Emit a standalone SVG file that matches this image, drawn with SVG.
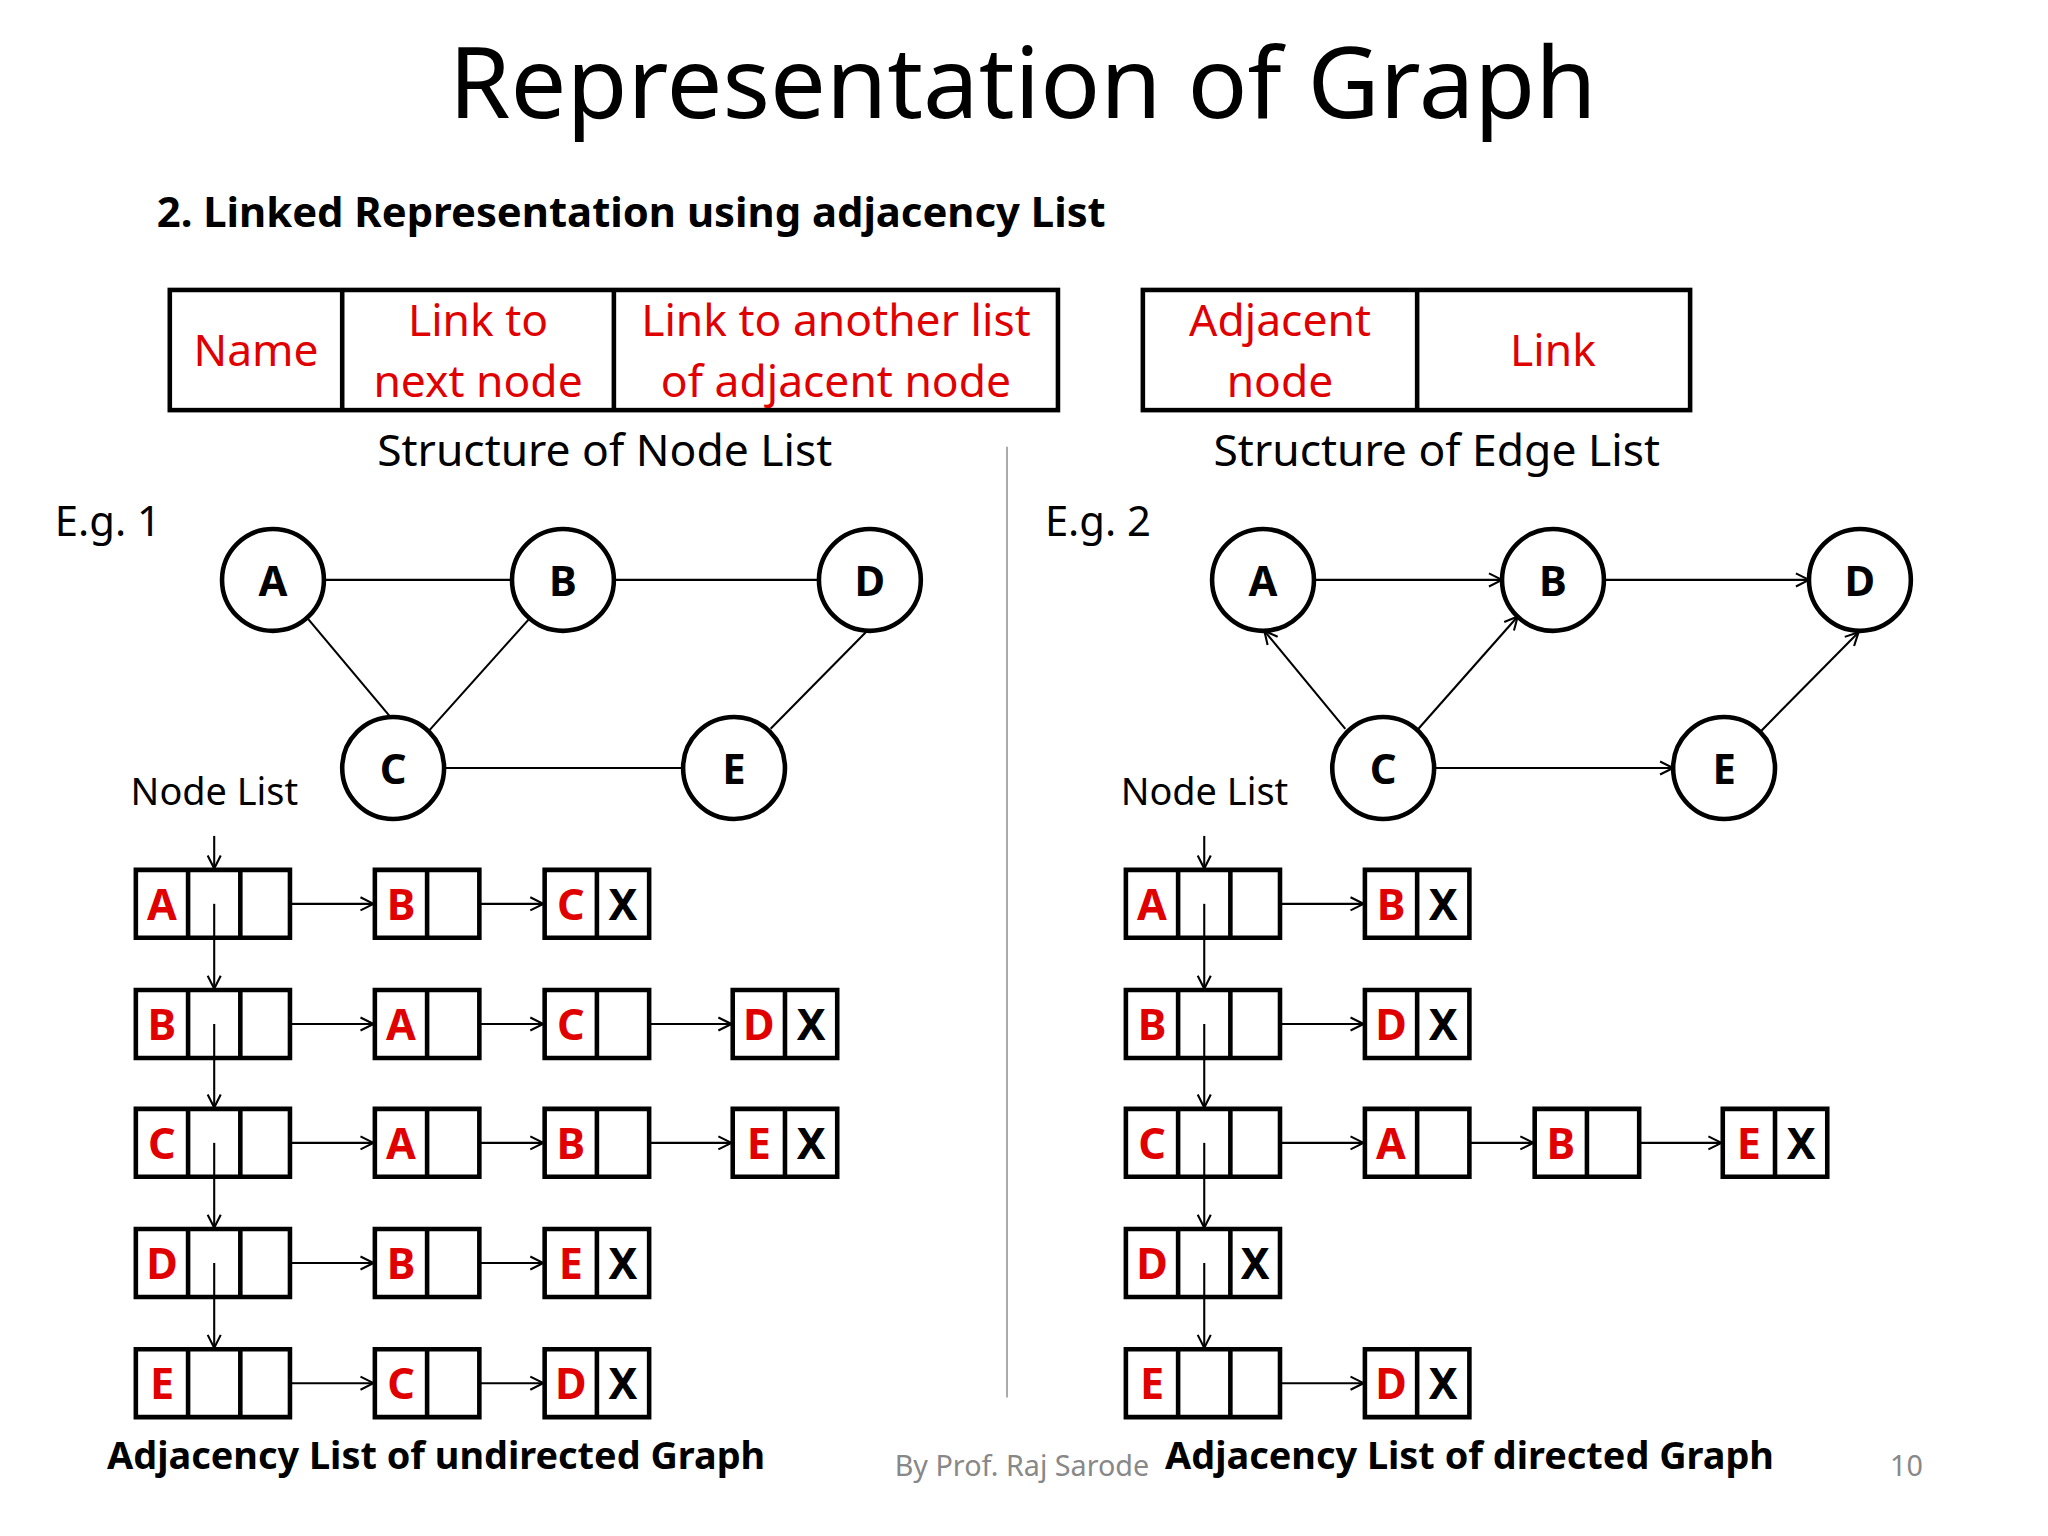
<svg xmlns="http://www.w3.org/2000/svg" width="2048" height="1536" viewBox="0 0 2048 1536">
<style>
text{font-family:"Noto Sans","Open Sans",sans-serif}
.t{font-size:34px;text-anchor:middle}
.r{fill:#e00000}
.box{fill:none;stroke:#000;stroke-width:3.5}
.c{fill:#fff;stroke:#000;stroke-width:3.5}
.e{stroke:#000;stroke-width:1.6;fill:none}
.a{stroke:#000;stroke-width:1.6;fill:none;marker-end:url(#ah)}
.L{font-size:33px;font-weight:bold;text-anchor:middle}
.n{font-size:32px;font-weight:bold;text-anchor:middle}
</style>
<defs>
<marker id="ah" viewBox="0 0 12 12" refX="11" refY="6" markerWidth="12" markerHeight="12" markerUnits="userSpaceOnUse" orient="auto"><path d="M1,1 L11,6 L1,11" fill="none" stroke="#000" stroke-width="1.6"/></marker>
</defs>
<rect width="2048" height="1536" fill="#fff"/>
<g transform="scale(1.30612)">
<text x="783" y="90" style="font-size:76px;text-anchor:middle">Representation of Graph</text>
<text x="120" y="174" style="font-size:32px;font-weight:bold">2. Linked Representation using adjacency List</text>
<g id="nodeStruct">
<rect class="box" x="130" y="222" width="680" height="92"/>
<line class="box" x1="262" y1="222" x2="262" y2="314"/><line class="box" x1="470" y1="222" x2="470" y2="314"/>
<text class="t r" x="196" y="280">Name</text>
<text class="t r" x="366" y="257">Link to</text><text class="t r" x="366" y="304">next node</text>
<text class="t r" x="640" y="257">Link to another list</text><text class="t r" x="640" y="304">of adjacent node</text>
<text class="t" x="463" y="357">Structure of Node List</text>
</g>
<g id="edgeStruct">
<rect class="box" x="875" y="222" width="419" height="92"/>
<line class="box" x1="1085" y1="222" x2="1085" y2="314"/>
<text class="t r" x="980" y="257">Adjacent</text><text class="t r" x="980" y="304">node</text>
<text class="t r" x="1189" y="280">Link</text>
<text class="t" x="1100" y="357">Structure of Edge List</text>
</g>
<line x1="771" y1="342" x2="771" y2="1070" stroke="#aaa" stroke-width="1.5"/>
<text x="42" y="410" style="font-size:32px">E.g. 1</text>
<text x="800" y="410" style="font-size:32px">E.g. 2</text>
<text x="100" y="616" style="font-size:29px">Node List</text>
<text x="858" y="616" style="font-size:29px">Node List</text>
<g id="connectors">
<line class="e" x1="248" y1="444" x2="392" y2="444"/>
<line class="e" x1="470" y1="444" x2="627" y2="444"/>
<line class="e" x1="236" y1="474" x2="299" y2="549"/>
<line class="e" x1="405" y1="474" x2="328" y2="560"/>
<line class="e" x1="340" y1="588" x2="523" y2="588"/>
<line class="e" x1="664" y1="483" x2="590" y2="558"/>
<line class="a" x1="1006" y1="444" x2="1150" y2="444"/>
<line class="a" x1="1228" y1="444" x2="1385" y2="444"/>
<line class="a" x1="1030" y1="558" x2="968" y2="483"/>
<line class="a" x1="1086" y1="558" x2="1162" y2="472"/>
<line class="a" x1="1098" y1="588" x2="1281" y2="588"/>
<line class="a" x1="1348" y1="560" x2="1423" y2="484"/>
</g>
<g id="g1A"><circle class="c" cx="209" cy="444" r="39"/><text class="n" x="209" y="456">A</text></g>
<g id="g1B"><circle class="c" cx="431" cy="444" r="39"/><text class="n" x="431" y="456">B</text></g>
<g id="g1D"><circle class="c" cx="666" cy="444" r="39"/><text class="n" x="666" y="456">D</text></g>
<g id="g1C"><circle class="c" cx="301" cy="588" r="39"/><text class="n" x="301" y="600">C</text></g>
<g id="g1E"><circle class="c" cx="562" cy="588" r="39"/><text class="n" x="562" y="600">E</text></g>
<g id="g2A"><circle class="c" cx="967" cy="444" r="39"/><text class="n" x="967" y="456">A</text></g>
<g id="g2B"><circle class="c" cx="1189" cy="444" r="39"/><text class="n" x="1189" y="456">B</text></g>
<g id="g2D"><circle class="c" cx="1424" cy="444" r="39"/><text class="n" x="1424" y="456">D</text></g>
<g id="g2C"><circle class="c" cx="1059" cy="588" r="39"/><text class="n" x="1059" y="600">C</text></g>
<g id="g2E"><circle class="c" cx="1320" cy="588" r="39"/><text class="n" x="1320" y="600">E</text></g>

<!-- list 1 -->
<g id="list1">
<line class="a" x1="164" y1="640" x2="164" y2="665"/>
<!-- head nodes -->
<g stroke="#000" stroke-width="3.5" fill="none">
<path d="M104,666h118v52h-118z M144,666v52 M184,666v52"/>
<path d="M104,758h118v52h-118z M144,758v52 M184,758v52"/>
<path d="M104,849h118v52h-118z M144,849v52 M184,849v52"/>
<path d="M104,941h118v52h-118z M144,941v52 M184,941v52"/>
<path d="M104,1033h118v52h-118z M144,1033v52 M184,1033v52"/>
<path d="M287,666h80v52h-80z M327,666v52 M417,666h80v52h-80z M457,666v52"/>
<path d="M287,758h80v52h-80z M327,758v52 M417,758h80v52h-80z M457,758v52 M561,758h80v52h-80z M601,758v52"/>
<path d="M287,849h80v52h-80z M327,849v52 M417,849h80v52h-80z M457,849v52 M561,849h80v52h-80z M601,849v52"/>
<path d="M287,941h80v52h-80z M327,941v52 M417,941h80v52h-80z M457,941v52"/>
<path d="M287,1033h80v52h-80z M327,1033v52 M417,1033h80v52h-80z M457,1033v52"/>
</g>
<line class="a" x1="164" y1="692" x2="164" y2="757"/>
<line class="a" x1="164" y1="784" x2="164" y2="848"/>
<line class="a" x1="164" y1="875" x2="164" y2="940"/>
<line class="a" x1="164" y1="967" x2="164" y2="1032"/>
<line class="a" x1="222" y1="692" x2="286" y2="692"/><line class="a" x1="367" y1="692" x2="416" y2="692"/>
<line class="a" x1="222" y1="784" x2="286" y2="784"/><line class="a" x1="367" y1="784" x2="416" y2="784"/><line class="a" x1="497" y1="784" x2="560" y2="784"/>
<line class="a" x1="222" y1="875" x2="286" y2="875"/><line class="a" x1="367" y1="875" x2="416" y2="875"/><line class="a" x1="497" y1="875" x2="560" y2="875"/>
<line class="a" x1="222" y1="967" x2="286" y2="967"/><line class="a" x1="367" y1="967" x2="416" y2="967"/>
<line class="a" x1="222" y1="1059" x2="286" y2="1059"/><line class="a" x1="367" y1="1059" x2="416" y2="1059"/>
<text class="L r" x="124" y="704">A</text><text class="L r" x="307" y="704">B</text><text class="L r" x="437" y="704">C</text><text class="L" x="477" y="704">X</text>
<text class="L r" x="124" y="796">B</text><text class="L r" x="307" y="796">A</text><text class="L r" x="437" y="796">C</text><text class="L r" x="581" y="796">D</text><text class="L" x="621" y="796">X</text>
<text class="L r" x="124" y="887">C</text><text class="L r" x="307" y="887">A</text><text class="L r" x="437" y="887">B</text><text class="L r" x="581" y="887">E</text><text class="L" x="621" y="887">X</text>
<text class="L r" x="124" y="979">D</text><text class="L r" x="307" y="979">B</text><text class="L r" x="437" y="979">E</text><text class="L" x="477" y="979">X</text>
<text class="L r" x="124" y="1071">E</text><text class="L r" x="307" y="1071">C</text><text class="L r" x="437" y="1071">D</text><text class="L" x="477" y="1071">X</text>
</g>

<g id="list2">
<line class="a" x1="922" y1="640" x2="922" y2="665"/>
<g stroke="#000" stroke-width="3.5" fill="none">
<path d="M862,666h118v52h-118z M902,666v52 M942,666v52"/>
<path d="M862,758h118v52h-118z M902,758v52 M942,758v52"/>
<path d="M862,849h118v52h-118z M902,849v52 M942,849v52"/>
<path d="M862,941h118v52h-118z M902,941v52 M942,941v52"/>
<path d="M862,1033h118v52h-118z M902,1033v52 M942,1033v52"/>
<path d="M1045,666h80v52h-80z M1085,666v52"/>
<path d="M1045,758h80v52h-80z M1085,758v52"/>
<path d="M1045,849h80v52h-80z M1085,849v52 M1175,849h80v52h-80z M1215,849v52 M1319,849h80v52h-80z M1359,849v52"/>
<path d="M1045,1033h80v52h-80z M1085,1033v52"/>
</g>
<line class="a" x1="922" y1="692" x2="922" y2="757"/>
<line class="a" x1="922" y1="784" x2="922" y2="848"/>
<line class="a" x1="922" y1="875" x2="922" y2="940"/>
<line class="a" x1="922" y1="967" x2="922" y2="1032"/>
<line class="a" x1="980" y1="692" x2="1044" y2="692"/>
<line class="a" x1="980" y1="784" x2="1044" y2="784"/>
<line class="a" x1="980" y1="875" x2="1044" y2="875"/><line class="a" x1="1125" y1="875" x2="1174" y2="875"/><line class="a" x1="1255" y1="875" x2="1318" y2="875"/>
<line class="a" x1="980" y1="1059" x2="1044" y2="1059"/>
<text class="L r" x="882" y="704">A</text><text class="L r" x="1065" y="704">B</text><text class="L" x="1105" y="704">X</text>
<text class="L r" x="882" y="796">B</text><text class="L r" x="1065" y="796">D</text><text class="L" x="1105" y="796">X</text>
<text class="L r" x="882" y="887">C</text><text class="L r" x="1065" y="887">A</text><text class="L r" x="1195" y="887">B</text><text class="L r" x="1339" y="887">E</text><text class="L" x="1379" y="887">X</text>
<text class="L r" x="882" y="979">D</text><text class="L" x="961" y="979">X</text>
<text class="L r" x="882" y="1071">E</text><text class="L r" x="1065" y="1071">D</text><text class="L" x="1105" y="1071">X</text>
</g>
<text x="82" y="1125" style="font-size:29px;font-weight:bold">Adjacency List of undirected Graph</text>
<text x="892" y="1125" style="font-size:29px;font-weight:bold">Adjacency List of directed Graph</text>
<text x="685" y="1130" style="font-size:22px;fill:#888">By Prof. Raj Sarode</text>
<text x="1447" y="1130" style="font-size:22px;fill:#888">10</text>
</g>
</svg>
